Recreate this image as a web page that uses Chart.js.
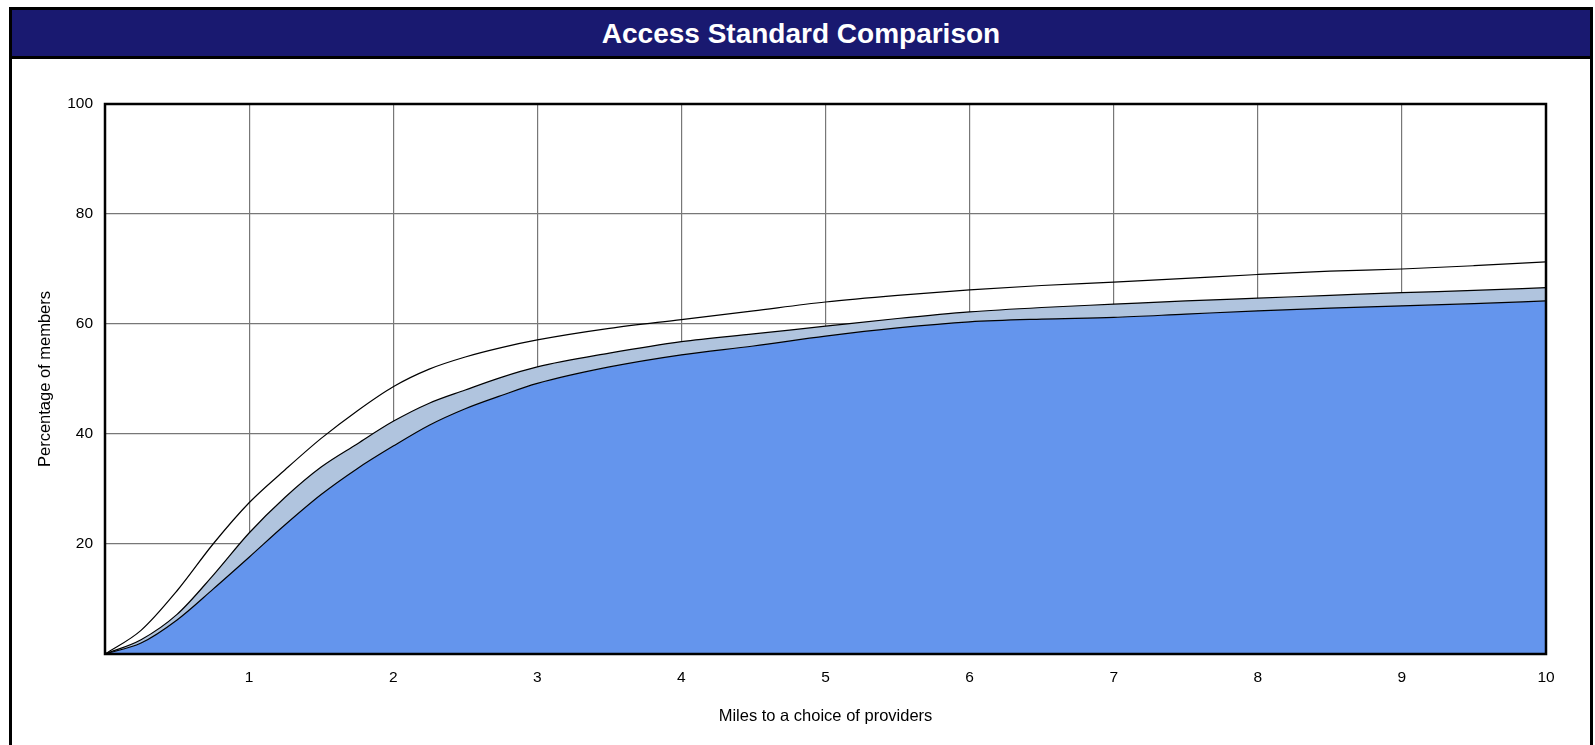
<!DOCTYPE html>
<html>
<head>
<meta charset="utf-8">
<script src="https://cdn.jsdelivr.net/npm/chart.js@4.4.1/dist/chart.umd.min.js"></script>
<style>
  body { margin: 0; background: #fff; overflow: hidden; }
  .frame {
    position: absolute; left: 9px; top: 7px; width: 1578px; height: 760px;
    border: 3px solid #000;
  }
  .titlebar {
    height: 46px; background: #191970; border-bottom: 3px solid #000;
    color: #fff; font: bold 28px "Liberation Sans", Arial, sans-serif;
    text-align: center; line-height: 48px;
  }
  #wrap { position: absolute; left: 12px; top: 59px; width: 1578px; height: 686px; }
</style>
</head>
<body>
<div class="frame"><div class="titlebar">Access Standard Comparison</div></div>
<div id="wrap"><canvas id="grafico"></canvas></div>
<script>
// miglia
const miles = [0, 0.25, 0.5, 0.75, 1, 1.25, 1.5, 1.75, 2, 2.25, 2.5, 2.75, 3, 3.5, 4, 4.5, 5, 5.5, 6, 6.5, 7, 7.5, 8, 8.5, 9, 9.5, 10];

// serie (percentuale membri)
const lower = [0, 2.0, 6.2, 11.8, 17.6, 23.5, 29.0, 33.7, 37.8, 41.6, 44.6, 47.0, 49.2, 52.2, 54.4, 56.0, 57.8, 59.3, 60.4, 60.9, 61.2, 61.8, 62.4, 62.9, 63.3, 63.7, 64.2];
const middle = [0, 2.6, 7.2, 14.3, 22.0, 28.5, 34.0, 38.2, 42.3, 45.6, 48.0, 50.3, 52.2, 54.7, 56.8, 58.2, 59.6, 61.0, 62.2, 63.0, 63.6, 64.2, 64.7, 65.2, 65.7, 66.1, 66.6];
const upper = [0, 4.3, 11.5, 20.0, 27.5, 33.5, 39.2, 44.2, 48.6, 51.8, 54.0, 55.7, 57.1, 59.2, 60.8, 62.4, 64.0, 65.2, 66.2, 67.0, 67.6, 68.3, 69.0, 69.6, 70.0, 70.6, 71.3];

const xTicks = [1, 2, 3, 4, 5, 6, 7, 8, 9, 10];
const yTicks = [20, 40, 60, 80, 100];

const font = "'Liberation Sans', Arial, sans-serif";

function pts(arr) {
  return arr.map((v, i) => ({x: miles[i], y: v}));
}

// bordo nero attorno all'area del grafico
const boxPlugin = {
  id: 'box',
  afterDraw(chart) {
    const a = chart.chartArea, ctx = chart.ctx;
    ctx.save();
    ctx.strokeStyle = '#000';
    ctx.lineWidth = 2.5;
    ctx.strokeRect(a.left, a.top, a.right - a.left, a.bottom - a.top);
    ctx.restore();
  }
};

const lineStyle = {
  borderColor: '#000',
  borderWidth: 1.2,
  pointRadius: 0,
  cubicInterpolationMode: 'monotone'
};

new Chart(document.getElementById('grafico'), {
  type: 'line',
  data: {
    datasets: [
      Object.assign({ data: pts(lower), backgroundColor: '#6495ED', fill: 'origin' }, lineStyle),
      Object.assign({ data: pts(middle), backgroundColor: '#B0C4DE', fill: '-1' }, lineStyle),
      Object.assign({ data: pts(upper), backgroundColor: '#fff', fill: false }, lineStyle)
    ]
  },
  options: {
    responsive: true,
    maintainAspectRatio: false,
    animation: false,
    layout: { padding: { top: 45, right: 44, left: 0, bottom: 0 } },
    plugins: { legend: { display: false }, tooltip: { enabled: false } },
    scales: {
      x: {
        type: 'linear', min: 0, max: 10,
        afterFit(s) { s.height = 91; },
        afterBuildTicks(s) { s.ticks = [0].concat(xTicks).map(v => ({value: v})); },
        grid: { color: '#777', lineWidth: 1.2, drawTicks: false },
        border: { display: false },
        ticks: {
          padding: 14, color: '#000',
          font: { family: font, size: 15.5 },
          callback: v => v === 0 ? '' : String(v)
        },
        title: {
          display: true, text: 'Miles to a choice of providers', color: '#000',
          font: { family: font, size: 16.5 }, padding: { top: 0, bottom: 19 }
        }
      },
      y: {
        min: 0, max: 100,
        afterFit(s) { s.width = 93; },
        afterBuildTicks(s) { s.ticks = [0].concat(yTicks).map(v => ({value: v})); },
        grid: { color: '#777', lineWidth: 1.2, drawTicks: false },
        border: { display: false },
        ticks: {
          padding: 12, color: '#000',
          font: { family: font, size: 15.5 },
          callback: v => v === 0 ? '' : String(v)
        },
        title: {
          display: true, text: 'Percentage of members', color: '#000',
          font: { family: font, size: 16.5 }, padding: { top: 24, bottom: 0 }
        }
      }
    }
  },
  plugins: [boxPlugin]
});
</script>
</body>
</html>
